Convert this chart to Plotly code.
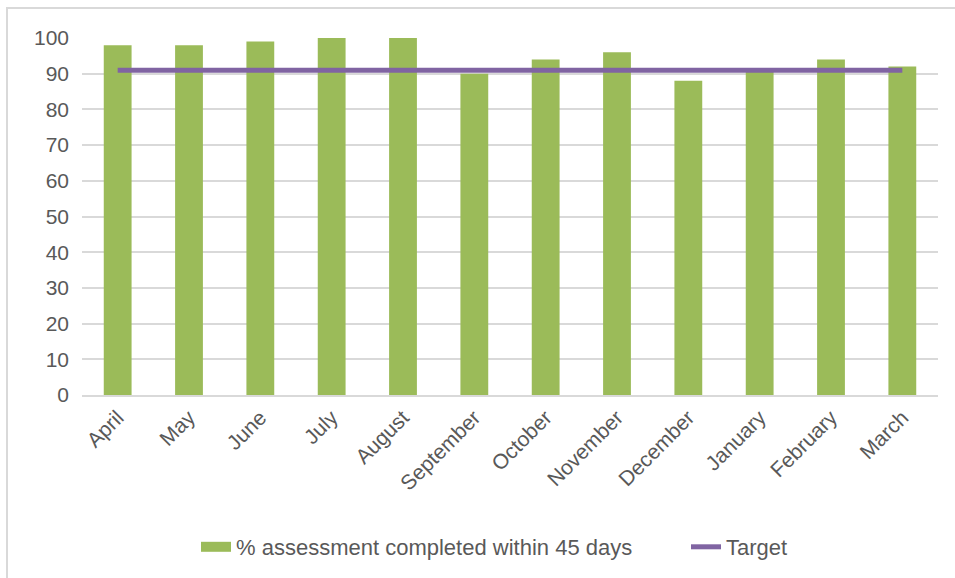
import plotly.graph_objects as go

months = ["April", "May", "June", "July", "August", "September", "October",
          "November", "December", "January", "February", "March"]
pct_within_45 = [98, 98, 99, 100, 100, 90, 94, 96, 88, 91, 94, 92]
target = [91] * 12
y_ticks = [0, 10, 20, 30, 40, 50, 60, 70, 80, 90, 100]

FONT = "Liberation Sans, Arial, sans-serif"
TXT = "#595959"
GRID = "#D9D9D9"
GREEN = "#9BBB59"
PURPLE = "#8064A2"

W, H = 955, 578
L, R, T, B = 82, 17, 38, 183
pw, ph = W - L - R, H - T - B

fig = go.Figure()
fig.add_trace(go.Bar(
    x=months, y=pct_within_45, name="% assessment completed within 45 days",
    marker=dict(color=GREEN, line=dict(width=0)), showlegend=False,
    legendgroup="bar",
))
# legend entry for the bars drawn as a wide rectangle (like the original)
fig.add_trace(go.Scatter(
    x=[months[0]], y=[None], name="% assessment completed within 45 days",
    mode="lines", line=dict(color=GREEN, width=13), legendgroup="bar",
    hoverinfo="skip", legend="legend",
))
fig.add_trace(go.Scatter(
    x=months, y=target, name="Target", mode="lines",
    line=dict(color=PURPLE, width=5), legend="legend2",
))

def px_x(p):
    return (p - L) / pw

def px_y(p):
    return (H - B - p) / ph

leg_common = dict(orientation="h", xanchor="left", y=px_y(547), yanchor="middle",
                  font=dict(family=FONT, size=22, color=TXT),
                  bgcolor="rgba(0,0,0,0)")

fig.update_layout(
    width=W, height=H,
    margin=dict(l=L, r=R, t=T, b=B, autoexpand=False),
    paper_bgcolor="white", plot_bgcolor="white",
    font=dict(family=FONT, color=TXT, size=20),
    bargap=0.61,
    showlegend=True,
    legend=dict(x=px_x(196), **leg_common),
    legend2=dict(x=px_x(686), **leg_common),
    xaxis=dict(type="category", tickangle=-45, showgrid=False, ticks="",
               showline=True, linecolor=GRID, linewidth=2,
               tickfont=dict(family=FONT, size=21, color=TXT)),
    yaxis=dict(range=[0, 100], tickvals=y_ticks, showgrid=True, gridcolor=GRID,
               gridwidth=2, zeroline=False, showline=False, ticks="",
               ticklabelstandoff=12,
               tickfont=dict(family=FONT, size=21, color=TXT)),
    shapes=[dict(type="rect", xref="paper", yref="paper",
                 x0=px_x(7), x1=px_x(W + 10), y0=px_y(H + 10), y1=px_y(8),
                 line=dict(color=GRID, width=2), fillcolor="rgba(0,0,0,0)", layer="below")],
)

fig.write_html("out.html", config={"displayModeBar": False},
               post_script="document.body.style.margin='0';")
